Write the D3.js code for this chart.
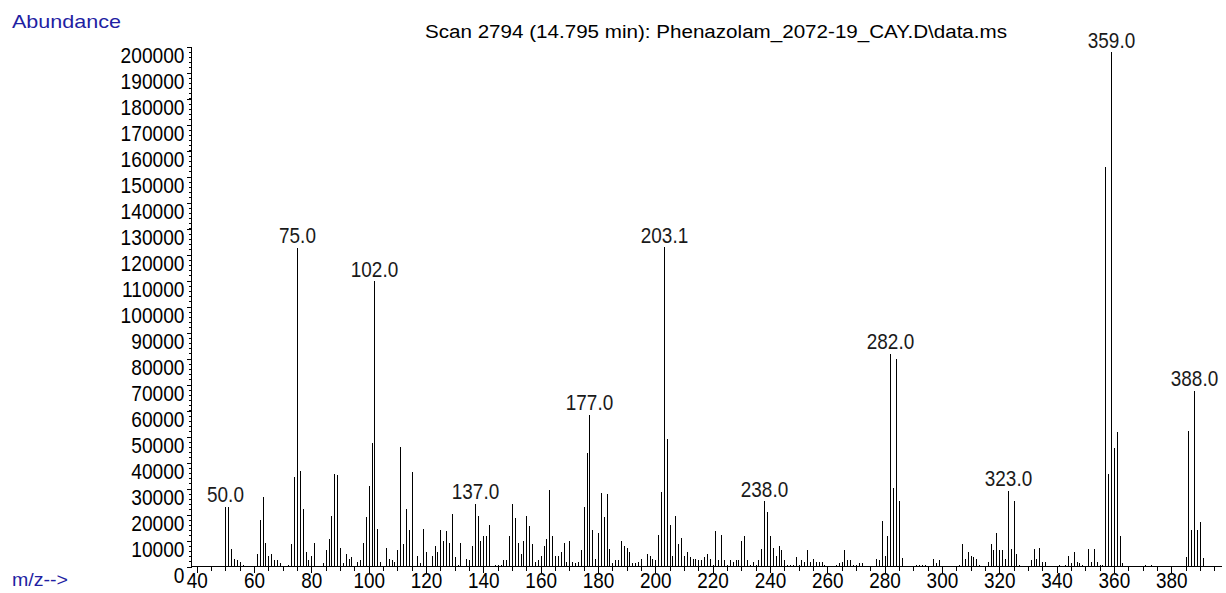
<!DOCTYPE html>
<html>
<head>
<meta charset="utf-8">
<script src="https://cdn.jsdelivr.net/npm/d3@7"></script>
<style>
  html, body { margin: 0; padding: 0; background: #fff; }
  svg { display: block; }
  text { font-family: "Liberation Sans", Arial, sans-serif; }
</style>
</head>
<body>
<svg id="chart" width="1226" height="593"></svg>
<script>
// ---------- data ----------
const title = "Scan 2794 (14.795 min): Phenazolam_2072-19_CAY.D\\data.ms";
const yLabel = "Abundance";
const xLabel = "m/z-->";

const mz = [
  50,51,52,53,54,55,56,61,62,63,64,65,66,67,68,69,72,73,74,75,76,77,78,79,80,81,84,85,86,87,88,89,90,
  91,92,93,94,96,97,98,99,100,101,102,103,104,106,107,108,109,110,111,112,113,114,115,117,118,119,120,
  122,123,124,125,126,127,128,129,130,131,132,134,135,136,137,138,139,140,141,142,144,145,146,147,148,
  149,150,151,152,153,154,155,156,157,158,159,160,161,162,163,164,165,166,167,168,169,170,171,172,173,
  174,175,176,177,178,179,180,181,182,183,184,185,186,187,188,189,190,191,192,193,194,195,197,198,199,
  200,201,202,203.1,204,205,206,207,208,209,210,211,212,213,214,215,216,217,218,219,220,221,222,223,
  224,225,226,227,228,229,230,231,232,233,234,235,236,237,238,239,240,241,242,243,244,245,246,247,248,
  249,250,251,252,253,254,255,256,257,258,259,263,264,265,266,267,268,269,270,271,272,277,278,279,280,
  281,282,283,284,285,286,291,292,293,294,297,298,299,306,307,308,309,310,311,312,313,316,317,318,319,
  320,321,322,323,324,325,326,327,331,332,333,334,335,336,341,343,344,345,346,347,348,349,351,352,353,
  354,355,356,357,358,359,360,361,362,363,371,373,385,386,387,388,389,390,391
];
const abundance = [
  23000,22700,6700,3000,2500,1800,500,4900,17700,26900,9200,4200,5000,2400,2400,1300,600,8600,34400,122600,36800,22000,5500,2400,4200,9200,1300,6200,10500,19600,35700,35300,7300,
  1300,4900,3000,3600,1800,2400,9200,19100,30800,47400,109700,14600,1700,7300,2900,2400,1800,6200,45900,8600,22000,14100,36300,4200,1300,14600,5500,
  4200,7900,5500,14100,9700,13500,9200,20300,3600,600,9200,2900,2400,7800,24100,19600,9700,11700,11700,15900,500,600,600,2400,2400,
  11700,24000,18500,9200,4900,9700,19600,15400,8600,1900,2400,4200,7800,10400,29500,11700,4200,4200,5500,9200,1800,9700,1800,1300,1700,
  6200,22700,43600,58300,14100,2900,12800,28200,19000,27700,6700,1300,2400,2400,9700,7800,7300,5500,1300,1300,1800,2900,4900,4200,2900,
  2400,12300,28800,122800,49100,15900,4200,19600,8600,11000,4200,5500,3600,2900,2900,2400,2400,3600,4900,2900,600,13500,2400,12200,
  2400,500,2400,1700,2400,2400,9700,11700,2400,500,1800,500,2400,6700,25100,20900,11700,7300,4200,7900,6200,2400,500,500,500,
  3600,500,2400,1800,6200,1800,2900,1700,1800,1800,500,500,1300,1800,6200,2400,2400,500,500,1300,1300,2900,2400,17400,4200,
  11700,81800,30300,79900,25100,3200,500,500,500,500,2900,1300,2600,500,8600,2900,5500,4200,3600,2900,500,1800,8600,6200,12800,
  6200,6200,2900,29200,6800,25100,4900,500,2400,6800,2900,7300,1800,1800,500,500,4200,1300,5500,1800,1300,500,6700,1800,6700,
  1700,500,500,153500,35500,197800,45500,51700,11800,1300,500,500,3600,52200,14100,67600,14100,17200,3100
];
const labeledPeaks = [50, 75, 102, 137, 177, 203.1, 238, 282, 323, 359, 388];
const yTicks = d3.range(0, 200001, 10000);
const xTicks = d3.range(40, 381, 20);

// ---------- layout ----------
const svg = d3.select("#chart");
const x = d3.scaleLinear().domain([40, 380]).range([196.7, 1171.2]);
const y = d3.scaleLinear().domain([0, 200000]).range([566.5, 46.5]);
const axisX0 = 191.5, axisX1 = 1222;
const base = y(0);
const blue = "#1f1fa3";

function condense(sel, k) {
  sel.each(function () {
    const w = this.getComputedTextLength();
    d3.select(this).attr("textLength", w * k).attr("lengthAdjust", "spacingAndGlyphs");
  });
}

// bars
const peaks = mz.map((m, i) => ({ m, v: abundance[i] }));
svg.append("g").selectAll("line").data(peaks).join("line")
  .attr("x1", d => Math.round(x(d.m)) + 0.5)
  .attr("x2", d => Math.round(x(d.m)) + 0.5)
  .attr("y1", base)
  .attr("y2", d => y(d.v))
  .attr("stroke", "#000").attr("stroke-width", 1)
  .attr("shape-rendering", "crispEdges");

// y axis
const yAxis = d3.axisLeft(y).tickValues(yTicks).tickSize(5).tickPadding(3).tickFormat(d3.format("d"));
const gy = svg.append("g").attr("transform", `translate(${axisX0},0)`).call(yAxis);
gy.select(".domain").remove();
gy.selectAll(".tick line").attr("stroke", "#000").attr("shape-rendering", "crispEdges");
gy.selectAll(".tick text").attr("font-size", 22).attr("fill", "#000")
  .attr("font-family", "Liberation Sans, Arial, sans-serif")
  .attr("x", -7).attr("dy", "0.73em");
gy.selectAll(".tick text").call(condense, 0.87);
// y minor ticks
svg.append("g").selectAll("line").data(d3.range(0, 200001, 2000)).join("line")
  .attr("x1", axisX0 - 3).attr("x2", axisX0)
  .attr("y1", d => Math.round(y(d)) + 0.5).attr("y2", d => Math.round(y(d)) + 0.5)
  .attr("stroke", "#000").attr("shape-rendering", "crispEdges");
svg.append("line").attr("x1", axisX0).attr("x2", axisX0).attr("y1", y(200000)).attr("y2", base + 0.5)
  .attr("stroke", "#000").attr("shape-rendering", "crispEdges");

// x axis
const xAxis = d3.axisBottom(x).tickValues(xTicks).tickSize(6).tickPadding(2).tickFormat(d3.format("d"));
const gx = svg.append("g").attr("transform", `translate(0,${base})`).call(xAxis);
gx.select(".domain").remove();
gx.selectAll(".tick line").attr("stroke", "#000").attr("shape-rendering", "crispEdges");
gx.selectAll(".tick text").attr("font-size", 22).attr("fill", "#000")
  .attr("font-family", "Liberation Sans, Arial, sans-serif")
  .attr("dy", "13px");
gx.selectAll(".tick text").call(condense, 0.86);
svg.append("g").selectAll("line").data(d3.range(40, 396, 5)).join("line")
  .attr("x1", d => Math.round(x(d)) + 0.5).attr("x2", d => Math.round(x(d)) + 0.5)
  .attr("y1", base).attr("y2", base + 4)
  .attr("stroke", "#000").attr("shape-rendering", "crispEdges");
svg.append("line").attr("x1", axisX0).attr("x2", axisX1).attr("y1", base).attr("y2", base)
  .attr("stroke", "#000").attr("shape-rendering", "crispEdges");

// peak labels
const lab = svg.append("g").selectAll("text").data(labeledPeaks).join("text")
  .attr("x", d => Math.round(x(d)) + 0.5)
  .attr("y", d => y(abundance[mz.indexOf(d)]) - 4.5)
  .attr("text-anchor", "middle")
  .attr("font-size", 22).attr("fill", "#1a1a1a")
  .text(d => d.toFixed(1));
lab.call(condense, 0.86);

// title & axis names
svg.append("text").attr("x", 425).attr("y", 38).attr("font-size", 18).attr("fill", "#000")
  .attr("textLength", 582).attr("lengthAdjust", "spacingAndGlyphs").text(title);
svg.append("text").attr("x", 12).attr("y", 28).attr("font-size", 19).attr("fill", blue)
  .attr("textLength", 109).attr("lengthAdjust", "spacingAndGlyphs").text(yLabel);
svg.append("text").attr("x", 12).attr("y", 586).attr("font-size", 19).attr("fill", blue)
  .attr("textLength", 56).attr("lengthAdjust", "spacingAndGlyphs").text(xLabel);
</script>
</body>
</html>
